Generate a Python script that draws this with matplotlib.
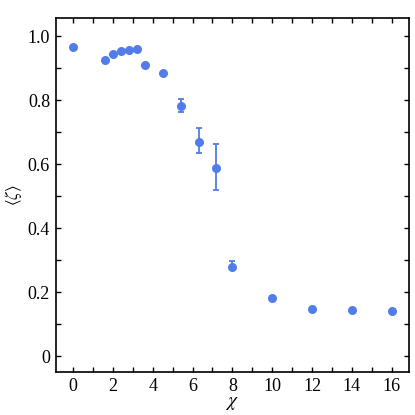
import matplotlib
matplotlib.use('Agg')
import matplotlib.pyplot as plt
from matplotlib.ticker import MultipleLocator, FuncFormatter

# ── Data ──────────────────────────────────────────────────────────────────────
chi = [0, 1.6, 2.0, 2.4, 2.8, 3.2, 3.6, 4.5, 5.4, 6.3, 7.2, 8, 10, 12, 14, 16]
zeta = [0.966, 0.924, 0.945, 0.952, 0.957, 0.958, 0.908, 0.883,
        0.780, 0.670, 0.588, 0.278, 0.181, 0.147, 0.144, 0.141]
err_lo = [0, 0, 0, 0, 0, 0, 0, 0,
          0.018, 0.036, 0.068, 0.006, 0, 0, 0, 0]
err_hi = [0, 0, 0, 0, 0, 0, 0, 0,
          0.023, 0.043, 0.075, 0.018, 0, 0, 0, 0]

COLOR = '#527de8'

plt.rcParams['font.family'] = ['Liberation Serif', 'DejaVu Serif']
plt.rcParams['mathtext.fontset'] = 'stix'

fig = plt.figure(figsize=(4.15, 4.15), dpi=100)
ax = fig.add_axes([0.134, 0.1036, 0.852, 0.852])

ax.errorbar(chi, zeta, yerr=[err_lo, err_hi], fmt='o', color=COLOR, ms=6.5,
            mec='none', elinewidth=1.3, capsize=2, capthick=1.3)

ax.set_xlim(-0.88, 16.88)
ax.set_ylim(-0.05, 1.055)

ax.xaxis.set_major_locator(MultipleLocator(2))
ax.xaxis.set_minor_locator(MultipleLocator(1))
ax.yaxis.set_major_locator(MultipleLocator(0.2))
ax.yaxis.set_minor_locator(MultipleLocator(0.1))


def yfmt(v, pos):
    return '0' if abs(v) < 1e-9 else f'{v:.1f}'


ax.yaxis.set_major_formatter(FuncFormatter(yfmt))

ax.tick_params(which='both', direction='in', top=True, right=True,
               length=3.5, width=1.0, labelsize=13, pad=4)
for s in ax.spines.values():
    s.set_linewidth(1.2)

ax.set_xlabel(r'$\chi$', fontsize=14, labelpad=0)
ax.set_ylabel(r'$\langle\zeta\rangle$', fontsize=12)
ax.yaxis.set_label_coords(-0.09, 0.5)

fig.savefig('out.png', dpi=100)
